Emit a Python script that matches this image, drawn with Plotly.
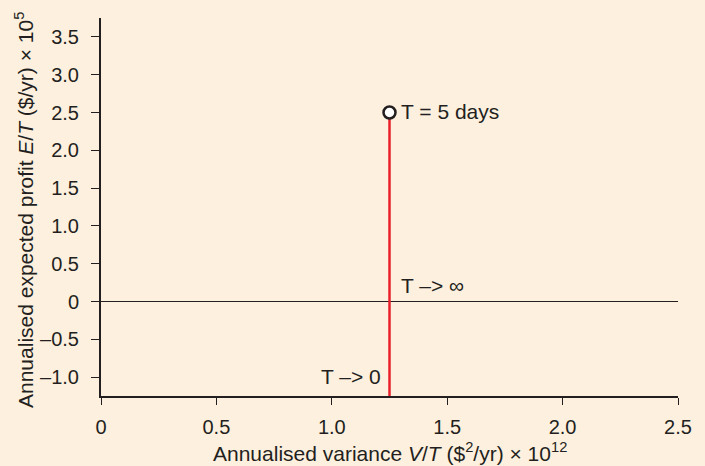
import plotly.graph_objects as go

# Data
variance_x = [1.25, 1.25]          # annualised variance V/T (x 10^12)
profit_y = [-1.25, 2.5]             # annualised expected profit E/T (x 10^5)
marker_x = [1.25]
marker_y = [2.5]

x_tickvals = [0, 0.5, 1.0, 1.5, 2.0, 2.5]
x_ticktext = ["0", "0.5", "1.0", "1.5", "2.0", "2.5"]
y_tickvals = [-1.0, -0.5, 0, 0.5, 1.0, 1.5, 2.0, 2.5, 3.0, 3.5]
y_ticktext = ["–1.0", "–0.5", "0", "0.5", "1.0", "1.5", "2.0", "2.5", "3.0", "3.5"]

x_title = "Annualised variance <i>V</i>/<i>T</i> ($<sup>2</sup>/yr) × 10<sup>12</sup>"
y_title = "Annualised expected profit <i>E</i>/<i>T</i> ($/yr) × 10<sup>5</sup>"

BG = "#fdf0df"
INK = "#231f20"
RED = "#e8202a"
FONT = "Liberation Sans, Arial, Helvetica, sans-serif"

fig = go.Figure()
fig.add_trace(go.Scatter(x=variance_x, y=profit_y, mode="lines",
                         line=dict(color=RED, width=2.5), showlegend=False,
                         hoverinfo="skip", cliponaxis=False))
fig.add_trace(go.Scatter(x=marker_x, y=marker_y, mode="markers",
                         marker=dict(symbol="circle", size=12, color="white",
                                     line=dict(color=INK, width=2.5)),
                         showlegend=False, cliponaxis=False))

fig.add_annotation(x=1.25, y=2.5, text="T = 5 days", showarrow=False,
                   xanchor="left", yanchor="middle", xshift=9, yshift=1,
                   font=dict(size=21, color=INK, family=FONT))
fig.add_annotation(x=1.25, y=0, text="T –> ∞", showarrow=False,
                   xanchor="left", yanchor="bottom", xshift=9, yshift=3,
                   font=dict(size=21, color=INK, family=FONT))
fig.add_annotation(x=1.25, y=-1.25, text="T –> 0", showarrow=False,
                   xanchor="right", yanchor="bottom", xshift=-7, yshift=6,
                   font=dict(size=21, color=INK, family=FONT))

# axis titles
fig.add_annotation(xref="paper", yref="paper", x=0.5, y=0, text=x_title,
                   showarrow=False, xanchor="center", yanchor="bottom", yshift=-71,
                   font=dict(size=21, color=INK, family=FONT))
fig.add_annotation(xref="paper", yref="paper", x=0, y=0.5, text=y_title,
                   showarrow=False, xanchor="center", yanchor="middle",
                   xshift=-77, yshift=-3, textangle=-90,
                   font=dict(size=21, color=INK, family=FONT))

fig.update_layout(
    width=705, height=466,
    margin=dict(l=101, r=27, t=18, b=70),
    paper_bgcolor=BG, plot_bgcolor=BG,
    font=dict(family=FONT, size=20, color=INK),
    xaxis=dict(range=[0, 2.5], tickvals=x_tickvals, ticktext=x_ticktext,
               showgrid=False, zeroline=False, showline=True, linecolor=INK,
               linewidth=2, ticks="outside", ticklen=7, tickwidth=1.2,
               tickcolor=INK, ticklabelstandoff=5, tickfont=dict(size=20),
               automargin=False),
    yaxis=dict(range=[-1.25, 3.75], tickvals=y_tickvals, ticktext=y_ticktext,
               showgrid=False, zeroline=True, zerolinecolor=INK, zerolinewidth=1.2,
               showline=True, linecolor=INK,
               linewidth=2, ticks="outside", ticklen=8, tickwidth=1.2,
               tickcolor=INK, ticklabelstandoff=8, tickfont=dict(size=20),
               automargin=False),
)

fig.write_html("out.html", config={"displayModeBar": False},
               post_script="document.body.style.margin='0';document.body.style.background='" + BG + "';")
